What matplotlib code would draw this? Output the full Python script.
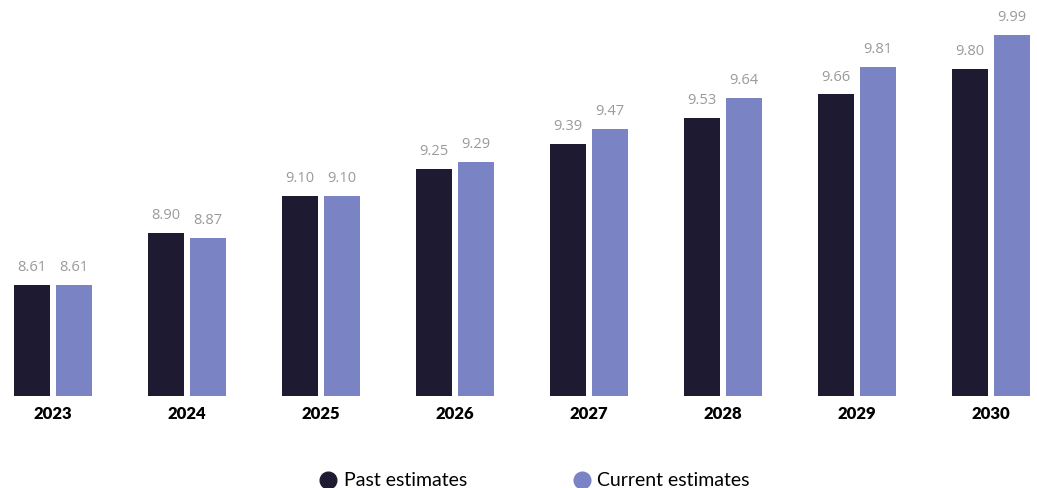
import matplotlib as mpl
mpl.use('agg')
import matplotlib.pyplot as plt
from matplotlib.lines import Line2D
import numpy as np

YEARS = ['2023', '2024', '2025', '2026', '2027', '2028', '2029', '2030']
PAST = [8.61, 8.90, 9.10, 9.25, 9.39, 9.53, 9.66, 9.80]
CURRENT = [8.61, 8.87, 9.10, 9.29, 9.47, 9.64, 9.81, 9.99]
SERIES_NAMES = ['Past estimates', 'Current estimates']

DARK = '#1d1a31'
LIGHT = '#7a83c3'
LABEL_GREY = '#9a9a9a'


def main():
    """Grouped bars of past vs current estimates by year"""
    plt.rcParams['font.family'] = ['Lato', 'DejaVu Sans']
    fig = plt.figure(figsize=(10.37, 4.88), dpi=100)
    axes = fig.add_axes([14 / 1037, 1 - 396 / 488, 1016 / 1037, 396 / 488])

    xvals = np.arange(len(YEARS))
    width = 0.27
    offset = 0.157
    bars_past = axes.bar(xvals - offset, PAST, width, bottom=0, color=DARK)
    bars_curr = axes.bar(xvals + offset, CURRENT, width, bottom=0, color=LIGHT)

    axes.set_ylim(8.0, 10.18)
    axes.set_xlim(-0.292, len(YEARS) - 1 + 0.292)

    for bars, vals in ((bars_past, PAST), (bars_curr, CURRENT)):
        for bar, val in zip(bars, vals):
            axes.annotate('{:.2f}'.format(val),
                          xy=(bar.get_x() + bar.get_width() / 2, val),
                          xytext=(0, 7), textcoords='offset points',
                          ha='center', va='bottom', fontsize=10.5,
                          family=['Open Sans', 'DejaVu Sans'],
                          color=LABEL_GREY)

    for xval, year in zip(xvals, YEARS):
        axes.text(xval, -0.045, year, transform=axes.get_xaxis_transform(),
                  ha='center', va='center', fontsize=12, fontweight='heavy',
                  color='black')

    axes.set_axis_off()

    handles = [Line2D([], [], marker='o', linestyle='none', markersize=12,
                      markerfacecolor=col, markeredgecolor=col)
               for col in (DARK, LIGHT)]
    fig.legend(handles, SERIES_NAMES, loc='center', ncol=2,
               bbox_to_anchor=(534 / 1037, 1 - 481 / 488), frameon=False,
               fontsize=14, handletextpad=0.3, columnspacing=5.4,
               handlelength=1.0)

    fig.savefig('out.png', dpi=100)


if __name__ == '__main__':
    main()
